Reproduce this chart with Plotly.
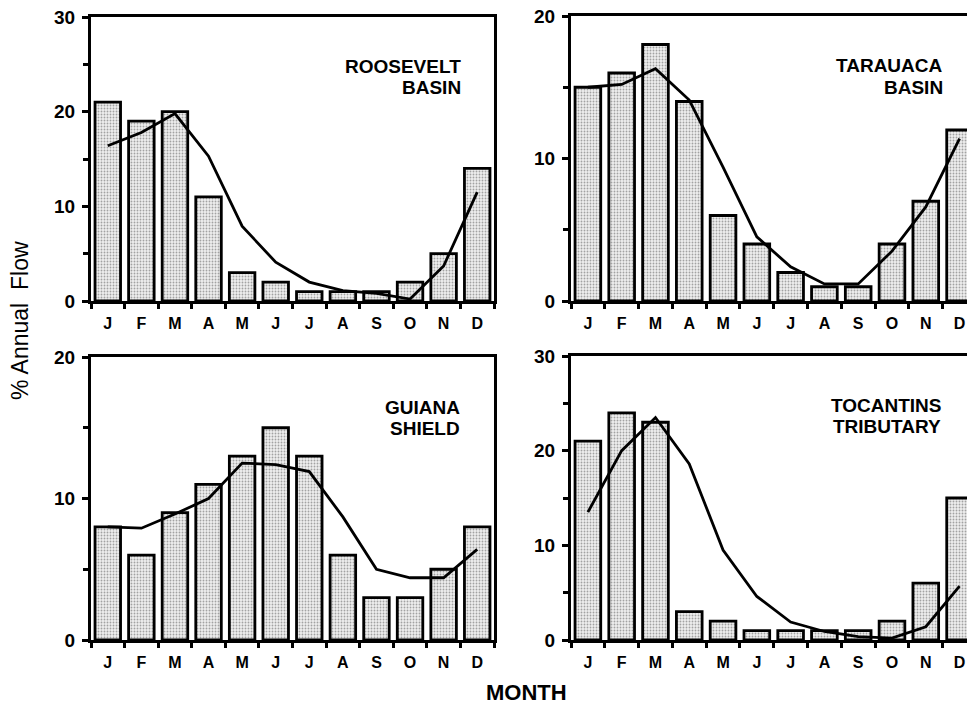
import plotly.graph_objects as go

months = ["J", "F", "M", "A", "M", "J", "J", "A", "S", "O", "N", "D"]
x_idx = list(range(12))

roosevelt_bars = [21, 19, 20, 11, 3, 2, 1, 1, 1, 2, 5, 14]
roosevelt_line = [16.4, 17.8, 19.8, 15.3, 7.9, 4.1, 2.0, 1.1, 0.8, 0.2, 3.7, 11.5]

tarauaca_bars = [15, 16, 18, 14, 6, 4, 2, 1, 1, 4, 7, 12]
tarauaca_line = [15.0, 15.2, 16.3, 14.1, 9.4, 4.5, 2.4, 1.2, 1.2, 3.5, 6.6, 11.4]

guiana_bars = [8, 6, 9, 11, 13, 15, 13, 6, 3, 3, 5, 8]
guiana_line = [8.0, 7.9, 8.9, 10.0, 12.5, 12.4, 11.9, 8.7, 5.0, 4.4, 4.4, 6.4]

tocantins_bars = [21, 24, 23, 3, 2, 1, 1, 1, 1, 2, 6, 15]
tocantins_line = [13.5, 20.0, 23.5, 18.6, 9.5, 4.6, 1.9, 0.9, 0.35, 0.2, 1.4, 5.7]

panels = [
    (["ROOSEVELT", "BASIN"], roosevelt_bars, roosevelt_line, 30),
    (["TARAUACA", "BASIN"], tarauaca_bars, tarauaca_line, 20),
    (["GUIANA", "SHIELD"], guiana_bars, guiana_line, 20),
    (["TOCANTINS", "TRIBUTARY"], tocantins_bars, tocantins_line, 30),
]

W, H = 967, 706
# pixel boxes: (left, right, top, bottom)
boxes = [
    (91, 494, 17, 301),
    (571, 967, 16, 301),
    (91, 494, 357, 640),
    (571, 967, 356, 640),
]
xranges = [[-0.5, 11.5], [-0.5, 11.22], [-0.5, 11.5], [-0.5, 11.22]]

FONT = "Liberation Sans, Arial, sans-serif"
fig = go.Figure()
layout = dict(
    width=W, height=H,
    margin=dict(l=0, r=0, t=0, b=0, autoexpand=False),
    paper_bgcolor="white", plot_bgcolor="white",
    showlegend=False,
    font=dict(family=FONT, color="black"),
)
annotations = []

for i, (title, bars, line, ymax) in enumerate(panels):
    n = i + 1
    xa = "x" if n == 1 else f"x{n}"
    ya = "y" if n == 1 else f"y{n}"
    fig.add_trace(go.Bar(
        x=x_idx, y=bars, xaxis=xa, yaxis=ya, width=0.76,
        marker=dict(
            color="#e6e6e6",
            line=dict(color="black", width=2.8),
            pattern=dict(shape=".", bgcolor="#eeeeee", fgcolor="#555555",
                         size=3, solidity=0.3),
        ),
    ))
    fig.add_trace(go.Scatter(
        x=x_idx, y=line, xaxis=xa, yaxis=ya, mode="lines",
        line=dict(color="black", width=2.8),
    ))
    l, r, t, b = boxes[i]
    right_open = r >= W
    layout["xaxis" if n == 1 else f"xaxis{n}"] = dict(
        domain=[l / W, r / W], anchor=ya, range=xranges[i],
        automargin=False,
        tickmode="array", tickvals=x_idx, ticktext=months,
        ticks="", showgrid=False, zeroline=False,
        showline=True, linecolor="black", linewidth=2.6,
        mirror=True,
        minor=dict(tickmode="array", tickvals=[k - 0.5 for k in range(13)],
                   ticks="outside", ticklen=5, tickwidth=2.6, tickcolor="black",
                   showgrid=False),
        tickfont=dict(family=FONT, size=16, color="black", weight="bold"),
        ticklabelstandoff=6,
    )
    layout["yaxis" if n == 1 else f"yaxis{n}"] = dict(
        domain=[1 - b / H, 1 - t / H], anchor=xa, range=[0, ymax],
        automargin=False,
        tickmode="array", tickvals=list(range(0, ymax + 1, 10)),
        ticks="outside", ticklen=6, tickwidth=2.6, tickcolor="black",
        minor=dict(tickmode="array", tickvals=list(range(5, ymax, 10)),
                   ticks="outside", ticklen=5, tickwidth=2.6, tickcolor="black",
                   showgrid=False),
        showgrid=False, zeroline=False,
        showline=True, linecolor="black", linewidth=3,
        mirror=not right_open,
        tickfont=dict(family=FONT, size=19, color="black", weight="bold"),
        ticklabelstandoff=3,
    )
    # panel title, right-aligned, two tight lines
    title_right = [463, 945, 462, 943][i]
    title_mid = [67, 66, 407, 405][i]
    for j, txt in enumerate(title):
        annotations.append(dict(
            text=txt, xref="paper", yref="paper",
            x=title_right / W, y=1 - (title_mid + 21 * j) / H,
            xanchor="right", yanchor="middle", showarrow=False,
            font=dict(family=FONT, size=19, color="black", weight="bold"),
        ))

annotations.append(dict(
    text="% Annual  Flow", xref="paper", yref="paper",
    x=20 / W, y=1 - 321 / H, textangle=-90, showarrow=False,
    xanchor="center", yanchor="middle",
    font=dict(family=FONT, size=23, color="black"),
))
annotations.append(dict(
    text="MONTH", xref="paper", yref="paper",
    x=526 / W, y=0, showarrow=False, borderpad=0,
    xanchor="center", yanchor="bottom",
    font=dict(family=FONT, size=22, color="black", weight="bold"),
))
layout["annotations"] = annotations
fig.update_layout(**layout)
fig.write_html("out.html", post_script="document.body.style.margin='0px';",
               config={"displayModeBar": False})
